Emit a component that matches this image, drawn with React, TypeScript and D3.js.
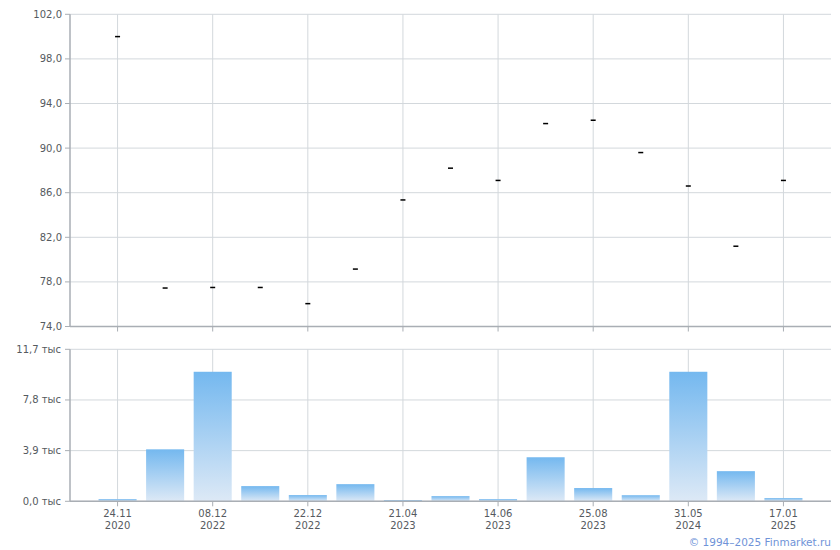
import React from "react";
import * as d3 from "d3";

const categories = [
  "24.11 2020", "c1", "08.12 2022", "c3", "22.12 2022", "c5", "21.04 2023", "c7",
  "14.06 2023", "c9", "25.08 2023", "c11", "31.05 2024", "c13", "17.01 2025",
];
const tickLabels: [string, string][] = [
  ["24.11", "2020"], ["", ""], ["08.12", "2022"], ["", ""], ["22.12", "2022"], ["", ""],
  ["21.04", "2023"], ["", ""], ["14.06", "2023"], ["", ""], ["25.08", "2023"], ["", ""],
  ["31.05", "2024"], ["", ""], ["17.01", "2025"],
];
const prices = [100.0, 77.45, 77.5, 77.5, 76.05, 79.15, 85.35, 88.2, 87.1, 92.2, 92.5, 89.6, 86.6, 81.2, 87.1];
const volumes = [0.17, 4.0, 9.97, 1.17, 0.48, 1.32, 0.1, 0.4, 0.17, 3.39, 1.02, 0.47, 9.97, 2.32, 0.25];
const priceTicks = [74, 78, 82, 86, 90, 94, 98, 102];
const volumeTicks = [0, 3.9, 7.8, 11.7];

const W = 840, H = 550;
const left = 70, right = 831;
const top1 = 14.3, bottom1 = 326.5;
const top2 = 349.3, bottom2 = 501.3;

const FONT = "DejaVu Sans, Verdana, sans-serif";
const GRID = "#d3d8dc";
const AXIS = "#a9aeb4";
const TEXT = "#555a60";

export default function App() {
  const idx = categories.map((_, i) => i);
  const x = d3.scalePoint<number>().domain(idx).range([left, right]).padding(1);
  const step = x.step();
  const barW = step * 0.8;
  const yP = d3.scaleLinear().domain([74, 102]).range([bottom1, top1]);
  const yV = d3.scaleLinear().domain([0, 11.7]).range([bottom2, top2]);
  const fmt = (v: number) => v.toFixed(1).replace(".", ",");
  const labeled = idx.filter((i) => tickLabels[i][0] !== "");

  return (
    <svg width={W} height={H} style={{ position: "absolute", left: 0, top: 0, background: "#fff" }}>
      <defs>
        <linearGradient id="barGrad" x1="0" y1="0" x2="0" y2="1">
          <stop offset="0%" stopColor="#74b8ef" />
          <stop offset="100%" stopColor="#dde9f6" />
        </linearGradient>
      </defs>

      {/* top panel grid */}
      {priceTicks.map((t) => (
        <line key={"pg" + t} x1={left} x2={right} y1={yP(t)} y2={yP(t)} stroke={GRID} strokeWidth={1} />
      ))}
      {labeled.map((i) => (
        <line key={"pv" + i} x1={x(i)!} x2={x(i)!} y1={top1} y2={bottom1} stroke={GRID} strokeWidth={1} />
      ))}
      {/* bottom panel grid */}
      {volumeTicks.map((t) => (
        <line key={"vg" + t} x1={left} x2={right} y1={yV(t)} y2={yV(t)} stroke={GRID} strokeWidth={1} />
      ))}
      {labeled.map((i) => (
        <line key={"vv" + i} x1={x(i)!} x2={x(i)!} y1={top2} y2={bottom2} stroke={GRID} strokeWidth={1} />
      ))}

      {/* bars */}
      {volumes.map((v, i) => (
        <rect key={"b" + i} x={x(i)! - barW / 2} y={yV(v)} width={barW} height={bottom2 - yV(v)} fill="url(#barGrad)" />
      ))}

      {/* price markers */}
      {prices.map((p, i) => (
        <line key={"m" + i} x1={x(i)! - 2.5} x2={x(i)! + 2.5} y1={yP(p)} y2={yP(p)} stroke="#000" strokeWidth={1.5} />
      ))}

      {/* axes top */}
      <line x1={left} x2={left} y1={top1} y2={bottom1} stroke={AXIS} strokeWidth={1.5} />
      <line x1={left} x2={right} y1={bottom1} y2={bottom1} stroke={AXIS} strokeWidth={1.5} />
      {priceTicks.map((t) => (
        <g key={"pt" + t}>
          <line x1={left - 5} x2={left} y1={yP(t)} y2={yP(t)} stroke={AXIS} strokeWidth={1} />
          <text x={left - 8} y={yP(t)} dy="0.35em" textAnchor="end" fontFamily={FONT} fontSize={10} fill={TEXT}>
            {fmt(t)}
          </text>
        </g>
      ))}
      {labeled.map((i) => (
        <line key={"ptx" + i} x1={x(i)!} x2={x(i)!} y1={bottom1} y2={bottom1 + 5} stroke={AXIS} strokeWidth={1} />
      ))}

      {/* axes bottom */}
      <line x1={left} x2={left} y1={top2} y2={bottom2} stroke={AXIS} strokeWidth={1.5} />
      <line x1={left} x2={right} y1={bottom2} y2={bottom2} stroke={AXIS} strokeWidth={1.5} />
      {volumeTicks.map((t) => (
        <g key={"vt" + t}>
          <line x1={left - 5} x2={left} y1={yV(t)} y2={yV(t)} stroke={AXIS} strokeWidth={1} />
          <text x={left - 9} y={yV(t)} dy="0.35em" textAnchor="end" fontFamily={FONT} fontSize={10} fill={TEXT}>
            {fmt(t) + " тыс"}
          </text>
        </g>
      ))}
      {labeled.map((i) => (
        <g key={"vtx" + i}>
          <line x1={x(i)!} x2={x(i)!} y1={bottom2} y2={bottom2 + 5} stroke={AXIS} strokeWidth={1} />
          <text x={x(i)!} y={517} textAnchor="middle" fontFamily={FONT} fontSize={10} fill={TEXT}>
            {tickLabels[i][0]}
          </text>
          <text x={x(i)!} y={529} textAnchor="middle" fontFamily={FONT} fontSize={10} fill={TEXT}>
            {tickLabels[i][1]}
          </text>
        </g>
      ))}

      <text x={831} y={546} textAnchor="end" fontFamily={FONT} fontSize={10.5} fill="#6f93d8">
        © 1994–2025 Finmarket.ru
      </text>
    </svg>
  );
}
